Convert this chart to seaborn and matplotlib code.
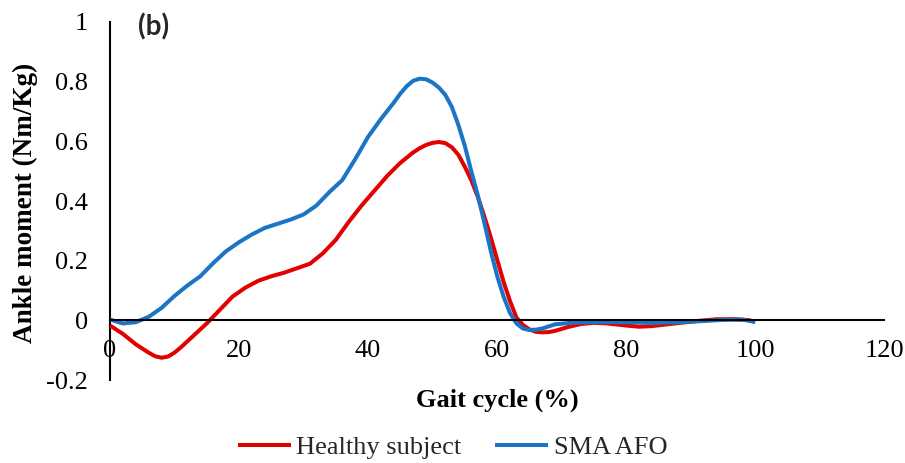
import matplotlib
matplotlib.use("Agg")
import matplotlib.pyplot as plt
import seaborn as sns
import pandas as pd

# Ankle moment over the gait cycle
healthy_x = [0, 2, 4, 6, 7, 8, 9, 10, 11, 13, 15, 17, 19, 21, 23, 25, 27, 29, 31, 33, 35,
             37, 39, 41, 43, 45, 47, 48, 49, 50, 51, 52, 53, 54, 55, 56, 57, 58, 59, 60,
             61, 62, 63, 64, 65, 66, 67, 68, 69, 71, 73, 75, 77, 80, 82, 84, 86, 88, 91,
             94, 97, 99, 100]
healthy_y = [-0.017, -0.045, -0.08, -0.108, -0.12, -0.125, -0.121, -0.108, -0.09, -0.05,
             -0.01, 0.035, 0.08, 0.11, 0.133, 0.148, 0.16, 0.175, 0.19, 0.225, 0.27, 0.33,
             0.385, 0.435, 0.485, 0.528, 0.563, 0.577, 0.588, 0.595, 0.598, 0.594, 0.58,
             0.555, 0.515, 0.47, 0.415, 0.35, 0.28, 0.205, 0.13, 0.065, 0.01, -0.015,
             -0.03, -0.038, -0.04, -0.039, -0.035, -0.022, -0.012, -0.008, -0.01, -0.017,
             -0.021, -0.019, -0.014, -0.009, -0.002, 0.004, 0.004, 0.001, -0.005]

afo_x = [0, 2, 4, 6, 8, 10, 12, 14, 16, 18, 20, 22, 24, 26, 28, 30, 32, 34, 36, 38, 40,
         42, 44, 45, 46, 47, 48, 49, 50, 51, 52, 53, 54, 55, 56, 57, 58, 59, 60, 61, 62,
         63, 64, 65, 66, 67, 69, 72, 76, 80, 84, 88, 92, 95, 98, 100]
afo_y = [0.003, -0.01, -0.006, 0.012, 0.042, 0.082, 0.117, 0.148, 0.192, 0.232, 0.262,
         0.288, 0.31, 0.324, 0.338, 0.355, 0.385, 0.43, 0.47, 0.54, 0.615, 0.675, 0.73,
         0.76, 0.785, 0.803, 0.81, 0.808, 0.797, 0.78, 0.755, 0.715, 0.655, 0.585, 0.5,
         0.42, 0.33, 0.235, 0.15, 0.08, 0.025, -0.01, -0.027, -0.032, -0.031, -0.027,
         -0.013, -0.007, -0.005, -0.006, -0.008, -0.006, -0.002, 0.002, 0.003, -0.005]

series_names = ["Healthy subject", "SMA AFO"]
x_ticks = [0, 20, 40, 60, 80, 100, 120]
y_ticks = [-0.2, 0, 0.2, 0.4, 0.6, 0.8, 1]
y_tick_labels = ["-0.2", "0", "0.2", "0.4", "0.6", "0.8", "1"]

df = pd.concat([
    pd.DataFrame({"gait": healthy_x, "moment": healthy_y, "group": series_names[0]}),
    pd.DataFrame({"gait": afo_x, "moment": afo_y, "group": series_names[1]}),
])

sns.set_theme(style="white")
plt.rcParams["font.family"] = ["Liberation Serif", "DejaVu Serif"]

fig = plt.figure(figsize=(9.05, 4.63), dpi=100)
ax = fig.add_axes([0.1215, 0.179, 0.8555, 0.7735])

palette = {series_names[0]: "#E30000", series_names[1]: "#1C74C6"}
line_kw = dict(solid_joinstyle="round", solid_capstyle="butt")
sns.lineplot(data=df, x="gait", y="moment", hue="group", palette=palette,
             linewidth=2.9, sort=False, ax=ax, legend=True, **line_kw)

ax.set_xlim(0, 120)
ax.set_ylim(-0.2, 1)
ax.set_xticks(x_ticks)
ax.set_yticks(y_ticks)
ax.set_yticklabels(y_tick_labels)

ax.spines["top"].set_visible(False)
ax.spines["right"].set_visible(False)
ax.spines["bottom"].set_position(("data", 0))
for s in ("left", "bottom"):
    ax.spines[s].set_color("black")
    ax.spines[s].set_linewidth(1.5)
ax.spines["left"].set_zorder(0.5)

ax.tick_params(axis="x", length=0, pad=14, labelsize=19, colors="black")
ax.tick_params(axis="y", length=0, pad=16, labelsize=19, colors="black")

ax.set_xlabel("Gait cycle (%)", fontsize=19, fontweight="bold", color="black")
ax.set_ylabel("Ankle moment (Nm/Kg)", fontsize=19.5, fontweight="bold", color="black")
ax.xaxis.set_label_coords(0.5, -0.025)
ax.yaxis.set_label_coords(-0.093, 0.495)

ax.text(0.036, 1.025, "(b)", transform=ax.transAxes, fontsize=20, fontweight="bold",
        family=["Lato", "DejaVu Sans"], va="top", ha="left")

handles, labels = ax.get_legend_handles_labels()
ax.legend(handles, labels, loc="center", bbox_to_anchor=(0.5, 0.034),
          bbox_transform=fig.transFigure, ncol=2, frameon=False, fontsize=19,
          handlelength=2.0, handletextpad=0.2, columnspacing=1.3)

fig.savefig("out.png", dpi=100)
